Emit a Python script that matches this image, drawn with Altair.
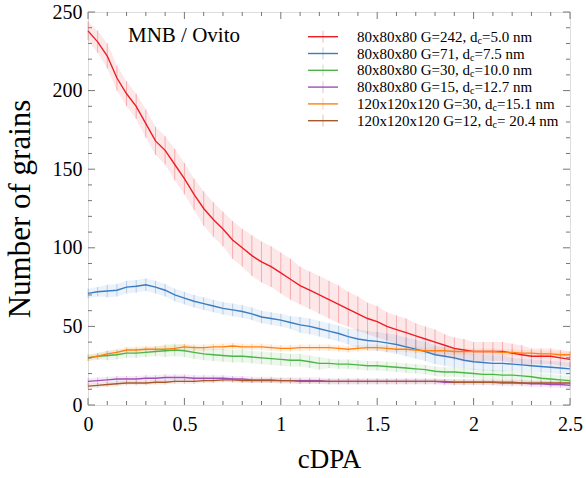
import altair as alt
import pandas as pd

# ---------------- data ----------------
cdpa = [0.0, 0.05, 0.1, 0.15, 0.2, 0.25, 0.3, 0.35, 0.4, 0.45,
        0.5, 0.55, 0.6, 0.65, 0.7, 0.75, 0.8, 0.85, 0.9, 0.95,
        1.0, 1.05, 1.1, 1.15, 1.2, 1.25, 1.3, 1.35, 1.4, 1.45,
        1.5, 1.55, 1.6, 1.65, 1.7, 1.75, 1.8, 1.85, 1.9, 1.95,
        2.0, 2.05, 2.1, 2.15, 2.2, 2.25, 2.3, 2.35, 2.4, 2.45, 2.5]

names = ["G242", "G71", "G30", "G15", "G30L", "G12L"]
label_prefix = ["80x80x80 G=242, d", "80x80x80 G=71, d", "80x80x80 G=30, d",
                "80x80x80 G=15, d", "120x120x120 G=30, d", "120x120x120 G=12, d"]
label_suffix = ["=5.0 nm", "=7.5 nm", "=10.0 nm", "=12.7 nm", "=15.1 nm", "= 20.4 nm"]
colors = ["#ee1d23", "#3a7cc2", "#4cb448", "#a04fb4", "#ff8010", "#a8582a"]

red = [238, 231, 222, 208, 198, 190, 179, 168, 162, 153,
       144, 134, 125, 118, 112, 105, 100, 95, 91, 88,
       84, 80, 76, 73, 70, 67, 64, 61, 58, 55,
       53, 50, 48, 46, 44, 42, 40, 38, 36, 35,
       34, 34, 34, 34, 33, 32, 31, 31, 31, 30, 29]
blue = [71, 72, 72.5, 73, 75, 75.5, 76.5, 75, 73, 70,
        68, 66, 64.5, 63, 61.5, 60.5, 59.5, 58, 56, 55,
        54, 52.5, 51, 50, 48.5, 47, 45.5, 43.5, 42, 41,
        40.5, 39.5, 38.5, 37, 35.5, 34, 32, 31, 30, 28.5,
        27.5, 27, 26.5, 26.5, 26, 25.5, 25, 24.5, 24, 23.5, 23]
green = [30, 31, 31.5, 32, 33, 33, 33.5, 34, 34.5, 35,
         34.5, 33.5, 32.5, 32, 31.5, 31, 31, 30.5, 30, 29.5,
         29, 28.5, 28.5, 27.5, 26.5, 26.5, 26, 26, 25.5, 25,
         25, 24.5, 24, 23.5, 23, 22.5, 21.5, 21, 21, 20.5,
         20, 19.5, 19.5, 19, 19, 18.5, 18, 17, 16.5, 16, 15.5]
purple = [15, 15.5, 16, 16.5, 16.5, 16.5, 17, 17, 17.5, 17.5,
          17.5, 17, 17, 17, 17, 16.5, 16.5, 16, 16, 16,
          15.5, 15.5, 15.5, 15.5, 15.5, 15, 15, 15, 15, 15,
          15, 15, 15, 15, 15, 15, 15, 14.5, 14.5, 14.5,
          14.5, 14.5, 14.5, 14, 14, 14, 13.5, 13.5, 13, 13, 12.5]
orange = [30, 31, 32.5, 33.5, 35, 35, 35.5, 35.5, 35.5, 36,
          37, 36.5, 36.5, 37, 37, 37.5, 37, 37, 37, 36.5,
          36, 36, 36.5, 36.5, 36.5, 36.5, 36, 35.5, 36, 36.5,
          36.5, 36, 35.5, 35.5, 35, 34.5, 34.5, 34.5, 34, 34,
          34, 34, 34, 33.5, 33.5, 33, 33, 32.5, 32.5, 32, 32]
brown = [12, 12.5, 13, 13.5, 14, 14, 14, 14.5, 14.5, 15,
         15, 15, 15.5, 15.5, 16, 16, 15.5, 15.5, 15.5, 15.5,
         15.5, 15.5, 15, 15, 15, 15, 15, 15, 15, 15,
         15, 15, 15, 15, 15, 15, 15, 15, 14.5, 14.5,
         14.5, 14.5, 14.5, 14.5, 14.5, 14, 14, 14, 14, 14, 14]

red_err = [6, 7, 8, 8, 8, 8,
           9, 9, 9, 10, 10, 10, 11, 11, 11,
           12, 12, 13, 13, 13, 13, 13, 12, 12, 12, 12, 12, 11, 11, 10,
           10, 9, 9, 9, 8, 8, 8, 7, 7, 7, 6,
           6, 6, 6, 6, 6, 5, 5, 5, 5, 5]
blue_err = [3, 3, 4, 4, 4, 4, 4, 4, 4, 4,
            4, 4, 4, 4, 4, 4, 4, 4, 4, 4,
            4, 4, 5, 5, 5, 5, 5, 5, 6, 6,
            6, 6, 6, 6, 6, 6, 6, 6, 6, 5,
            5, 5, 5, 5, 4, 4, 4, 4, 4, 4, 4]
green_err = [2, 2, 3, 3, 3, 3, 3, 3, 4, 4,
             4, 4, 4, 4, 4, 4, 4, 4, 4, 4,
             4, 4, 4, 4, 4, 3, 3, 3, 3, 3,
             3, 3, 3, 3, 3, 3, 3, 3, 3, 3,
             3, 3, 3, 3, 3, 3, 3, 3, 3, 3, 3]
purple_err = [2] * 51
orange_err = [2] * 51
brown_err = [1.5] * 51

series = [red, blue, green, purple, orange, brown]
errors = [red_err, blue_err, green_err, purple_err, orange_err, brown_err]

x_major = [0, 0.5, 1, 1.5, 2, 2.5]
x_minor = [0.1, 0.2, 0.3, 0.4, 0.6, 0.7, 0.8, 0.9, 1.1, 1.2, 1.3, 1.4,
           1.6, 1.7, 1.8, 1.9, 2.1, 2.2, 2.3, 2.4]
y_major = [0, 50, 100, 150, 200, 250]
y_minor = [10, 20, 30, 40, 60, 70, 80, 90, 110, 120, 130, 140,
           160, 170, 180, 190, 210, 220, 230, 240]

# ---------------- build table ----------------
rows = []
for name, vals, errs in zip(names, series, errors):
    for xv, v, e in zip(cdpa, vals, errs):
        rows.append({"series": name, "x": xv, "y": v, "lo": v - e, "hi": v + e})
df = pd.DataFrame(rows)

W, H = 482, 393
FONT = "Liberation Serif"

xscale = alt.Scale(domain=[0, 2.5], nice=False, zero=False)
yscale = alt.Scale(domain=[0, 250], nice=False)
cscale = alt.Scale(domain=names, range=colors)

xaxis = alt.Axis(values=x_major, format="~g", title="cDPA", ticks=False, domain=False,
                 grid=False, labelPadding=9, titlePadding=12, labelFontSize=20,
                 titleFontSize=27, labelFont=FONT, titleFont=FONT,
                 titleFontWeight="normal", labelColor="black", titleColor="black",
                 labelFlush=False)
yaxis = alt.Axis(values=y_major, title="Number of grains", ticks=False, domain=False,
                 grid=False, labelPadding=6, titlePadding=16, labelFontSize=20,
                 titleFontSize=31, labelFont=FONT, titleFont=FONT,
                 titleFontWeight="normal", labelColor="black", titleColor="black",
                 labelFlush=False)

base = alt.Chart(df)
band = base.mark_area(opacity=0.1).encode(
    x=alt.X("x:Q", scale=xscale, axis=xaxis),
    y=alt.Y("lo:Q", scale=yscale, axis=yaxis),
    y2="hi:Q",
    color=alt.Color("series:N", scale=cscale, legend=None),
    detail="series:N",
)
ebars = base.mark_rule(opacity=0.3, strokeWidth=1).encode(
    x="x:Q", y="lo:Q", y2="hi:Q",
    color=alt.Color("series:N", scale=cscale, legend=None),
)
lines = base.mark_line(strokeWidth=1.4).encode(
    x="x:Q", y="y:Q",
    color=alt.Color("series:N", scale=cscale, legend=None),
    order="x:Q",
)

# ---------------- inward ticks ----------------
tick_color = "#777777"
def xticks(vals, length):
    d = pd.DataFrame({"v": vals})
    c = alt.Chart(d)
    bot = c.mark_rule(color=tick_color, strokeWidth=1).encode(
        x="v:Q", y=alt.value(H), y2=alt.value(H - length))
    top = c.mark_rule(color=tick_color, strokeWidth=1).encode(
        x="v:Q", y=alt.value(0), y2=alt.value(length))
    return [bot, top]

def yticks(vals, length):
    d = pd.DataFrame({"w": vals})
    c = alt.Chart(d)
    left = c.mark_rule(color=tick_color, strokeWidth=1).encode(
        y="w:Q", x=alt.value(0), x2=alt.value(length))
    right = c.mark_rule(color=tick_color, strokeWidth=1).encode(
        y="w:Q", x=alt.value(W), x2=alt.value(W - length))
    return [left, right]

tick_layers = xticks(x_major, 7) + xticks(x_minor, 4) + yticks(y_major, 7) + yticks(y_minor, 4)

# ---------------- legend (manual, with subscript) ----------------
TNR = {"0": 500, "1": 500, "2": 500, "3": 500, "4": 500, "5": 500, "6": 500,
       "7": 500, "8": 500, "9": 500, "x": 500, " ": 250, "G": 722, "=": 564,
       ",": 250, "d": 500, ".": 250, "n": 500, "m": 778, "c": 444}
def text_w(s, size):
    return sum(TNR.get(ch, 500) for ch in s) * size / 1000.0

one = alt.Data(values=[{"a": 1}])
LFS = 15
SFS = 10
leg_layers = []
for i in range(6):
    yc = 24.7 + i * 16.8
    x0, x1, xm = 220, 250, 235
    tx = 269
    leg_layers.append(alt.Chart(one).mark_rule(color=colors[i], strokeWidth=1.4).encode(
        x=alt.value(x0), x2=alt.value(x1), y=alt.value(yc)))
    leg_layers.append(alt.Chart(one).mark_rule(color=colors[i], strokeWidth=1, opacity=0.35).encode(
        x=alt.value(xm), y=alt.value(yc - 6), y2=alt.value(yc + 6)))
    wp = text_w(label_prefix[i], LFS)
    leg_layers.append(alt.Chart(one).mark_text(
        align="left", baseline="middle", font=FONT, fontSize=LFS, color="black").encode(
        x=alt.value(tx), y=alt.value(yc), text=alt.value(label_prefix[i])))
    leg_layers.append(alt.Chart(one).mark_text(
        align="left", baseline="middle", font=FONT, fontSize=SFS, color="black").encode(
        x=alt.value(tx + wp), y=alt.value(yc + 4), text=alt.value("c")))
    leg_layers.append(alt.Chart(one).mark_text(
        align="left", baseline="middle", font=FONT, fontSize=LFS, color="black").encode(
        x=alt.value(tx + wp + text_w("c", SFS)), y=alt.value(yc), text=alt.value(label_suffix[i])))

note = alt.Chart(one).mark_text(
    align="center", baseline="alphabetic", font=FONT, fontSize=21, color="black").encode(
    x=alt.value(96), y=alt.value(29.7), text=alt.value("MNB / Ovito"))

chart = alt.layer(band, ebars, lines, *tick_layers, *leg_layers, note).properties(
    width=W, height=H,
    autosize=alt.AutoSizeParams(type="none"),
    padding={"left": 88, "top": 12, "right": 16, "bottom": 73},
).configure_view(stroke="#7f7f7f", strokeWidth=1.5).configure(font=FONT)

chart.save("out.html", embed_options={"renderer": "svg", "actions": False})
